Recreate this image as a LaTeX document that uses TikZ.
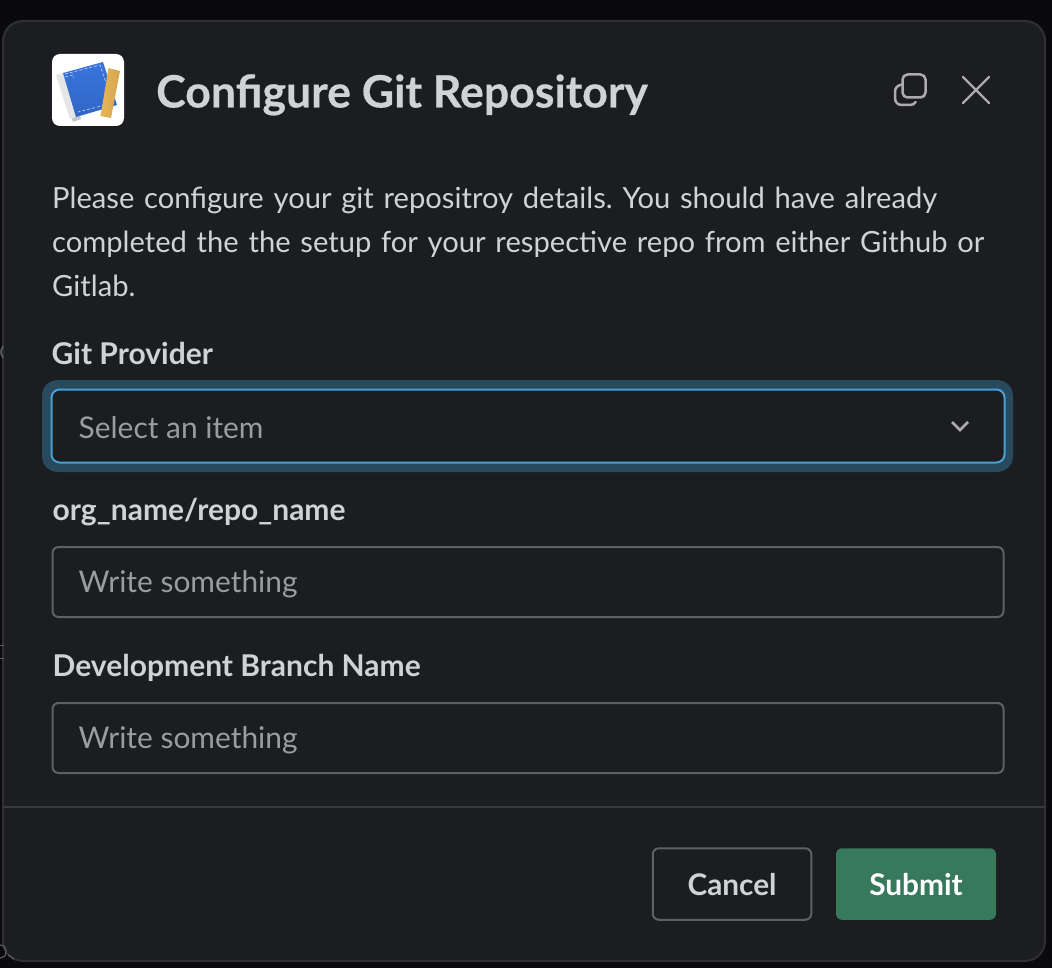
\documentclass[tikz,border=0pt]{standalone}
\usepackage{fontspec}
\setmainfont{Lato}
\usetikzlibrary{positioning}
\definecolor{backdrop}{RGB}{10, 10, 12}
\definecolor{panel}{RGB}{27, 29, 33}
\definecolor{panelline}{RGB}{47, 48, 52}
\definecolor{divider}{RGB}{57, 58, 62}
\definecolor{fieldline}{RGB}{95, 96, 99}
\definecolor{focusline}{RGB}{74, 159, 212}
\definecolor{focusring}{RGB}{39, 74, 94}
\definecolor{bodytext}{RGB}{209, 210, 211}
\definecolor{hinttext}{RGB}{155, 156, 158}
\definecolor{icongray}{RGB}{171, 171, 173}
\definecolor{submit}{RGB}{55, 121, 91}
\definecolor{bookblue}{RGB}{56, 116, 222}
\definecolor{ruler}{RGB}{232, 180, 86}
\definecolor{scrap}{RGB}{92, 93, 96}
\tikzset{
    field/.style={draw=fieldline, line width=2pt, rounded corners=6pt, minimum width=951pt, minimum height=70pt, inner sep=0pt, outer sep=0pt},
    fieldlabel/.style={text=bodytext, font=\fontsize{30}{36}\selectfont\bfseries, inner sep=0pt},
    hint/.style={text=hinttext, font=\fontsize{29.9}{36}\selectfont, inner sep=0pt},
    button/.style={rounded corners=6pt, minimum height=71.5pt, inner sep=0pt, outer sep=0pt, font=\fontsize{29.8}{36}\selectfont\bfseries}
}
\begin{document}
\begin{tikzpicture}[x=1pt, y=-1pt]
    \useasboundingbox (0,0) rectangle (1052,968);
    \fill[backdrop] (0,0) rectangle (1052,968);
    \node[draw=panelline, fill=panel, line width=2pt, rounded corners=20pt, minimum width=1042pt, minimum height=940pt, inner sep=0pt, outer sep=0pt, anchor=north west] (dialog) at (3,21) {};
    % scraps of the page behind
    \draw[scrap, line width=1.5pt] (3,346) -- (0.5,352) -- (3,358);
    \draw[scrap, line width=1.5pt] (0,645.5) -- (4,645.5) (0,658.5) -- (4,658.5);
    \draw[scrap, line width=1.2pt] (0,945) .. controls (4,945) and (6,948) .. (6,952) .. controls (6,956) and (3,958) .. (0,958);
    \draw[scrap, line width=1.2pt] (8,955) -- (14,959);
    % header
    \node[fill=white, rounded corners=8pt, minimum width=72pt, minimum height=72pt, inner sep=0pt, outer sep=0pt, anchor=north west] (logo) at (52,54) {};
    \fill[black!22] (60,80) -- (66,78) -- (81,119) -- (73,122) -- cycle;
    \fill[black!10] (56,75) -- (63,73) -- (76,117) -- (70,119) -- cycle;
    \shade[top color=bookblue, bottom color=bookblue!88!black] (63,73) -- (103,62) -- (117,105) -- (76,117) -- cycle;
    \draw[white!75!bookblue, densely dashed, line width=0.6pt] (65,74) -- (100,65) -- (113,103) -- (78,112);
    \draw[white!75!bookblue, densely dashed, line width=0.5pt] (65,77) -- (73,75) -- (74,78);
    \shade[left color=ruler, right color=ruler!92!black] (108.5,68) -- (120,71) -- (111,118) -- (100.5,116) -- cycle;
    \node[text=bodytext, font=\fontsize{44.6}{52}\selectfont\bfseries\addfontfeature{FakeBold=0.4}, inner sep=0pt, anchor=base west] (title) at (156,107.5) {Configure Git Repository};
    \draw[icongray, line width=2.5pt, rounded corners=5pt] (902.5,74.5) rectangle (925.5,97.5);
    \draw[icongray, line width=2.5pt, line cap=round] (902,84.5) .. controls (897,85.5) and (895,88) .. (895,92) -- (895,98) .. controls (895,102.5) and (898,105) .. (902,105) -- (910,105) .. controls (912.5,105) and (914.5,104) .. (915.7,102);
    \draw[icongray, line width=2.2pt, line cap=round] (963,77) -- (989,103) (989,77) -- (963,103);
    % intro
    \node[text=bodytext, font=\fontsize{29.15}{44}\selectfont\frenchspacing, align=left, text width=960pt, inner sep=0pt, anchor=base west] (intro) at (52,208.5) {Please configure your git repositroy details. You should have already\\completed the the setup for your respective repo from either Github or\\Gitlab.};
    % fields
    \node[field, draw=focusring, line width=9pt, rounded corners=11pt, minimum width=962pt, minimum height=83pt, anchor=north west] (ring) at (46.5,384.5) {};
    \node[field, fill=panel, draw=focusline, line width=2pt, rounded corners=8pt, minimum width=953pt, minimum height=73pt, anchor=north west] (provider) at (51.5,389.5) {};
    \node[field, anchor=north west] (repo) at (52.5,547) {};
    \node[field, below=86pt of repo.south west, anchor=north west] (branch) {};
    \node[fieldlabel, above=25pt of provider.north west, anchor=base west] (providerlabel) {Git Provider};
    \node[fieldlabel, above=27pt of repo.north west, anchor=base west] (repolabel) {org\_name/repo\_name};
    \node[fieldlabel, above=27pt of branch.north west, anchor=base west] (branchlabel) {Development Branch Name};
    \node[hint, below right=12pt and 27pt of provider.west, anchor=base west] (providerhint) {Select an item};
    \node[hint, below right=10pt and 26pt of repo.west, anchor=base west] (repohint) {Write something};
    \node[hint, below right=10pt and 26pt of branch.west, anchor=base west] (branchhint) {Write something};
    \draw[icongray, line width=2.5pt] (952,422) -- (960,430) -- (968,422);
    % footer
    \coordinate (footl) at (3,806.5);
    \coordinate (footr) at (1045,806.5);
    \draw[divider, line width=2pt] (footl) -- (footr);
    \node[button, fill=submit, text=white, minimum width=160pt, anchor=north west] (ok) at (836,848.3) {Submit};
    \node[button, draw=fieldline, line width=2pt, text=bodytext, minimum width=158.5pt, left=24.7pt of ok] (cancel) {Cancel};
\end{tikzpicture}
\end{document}
